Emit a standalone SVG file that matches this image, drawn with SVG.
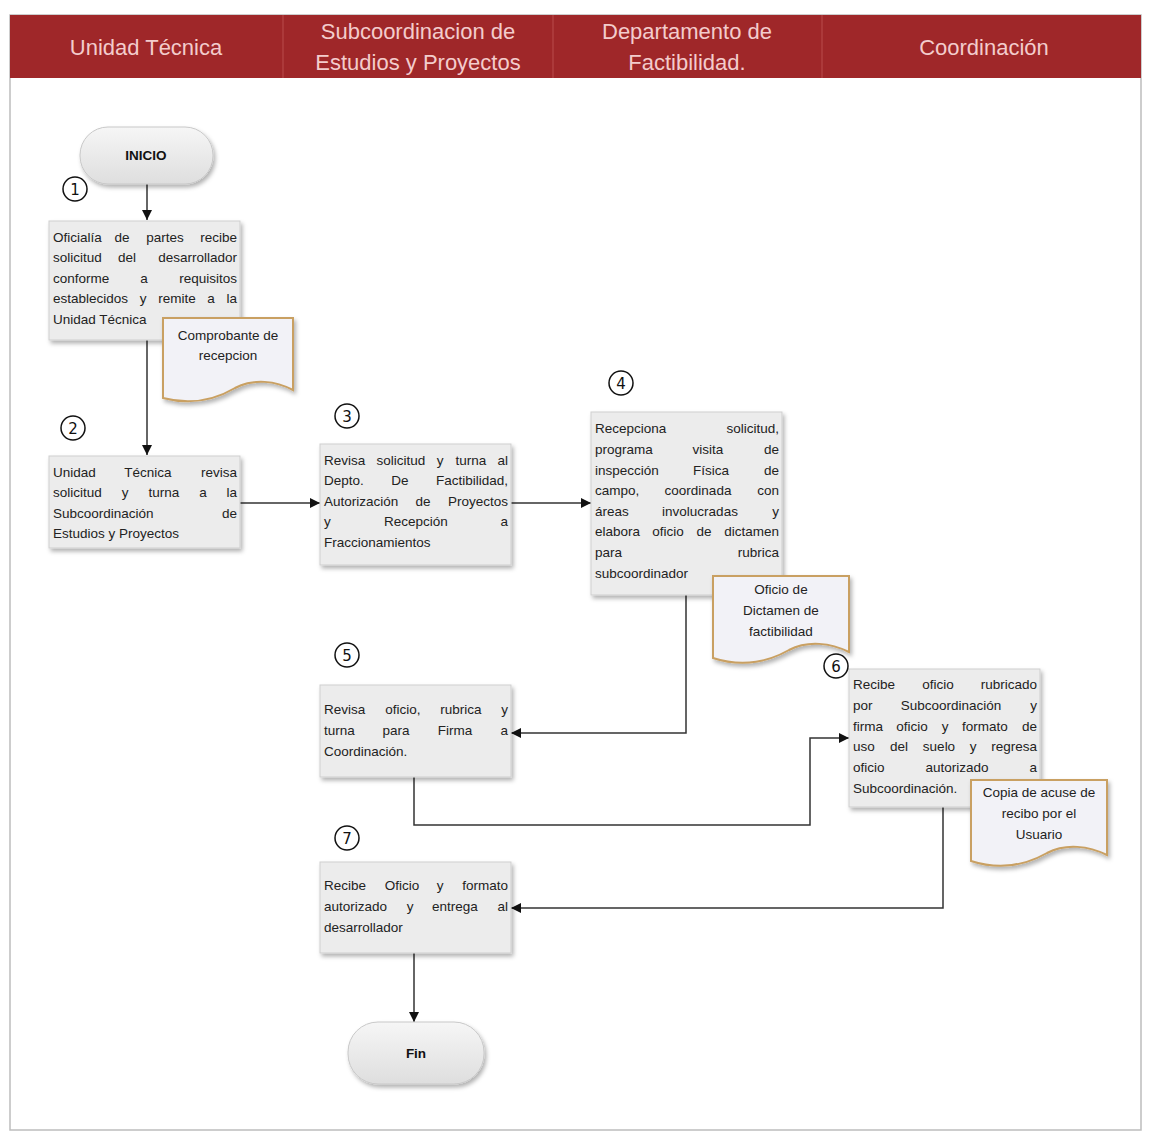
<svg xmlns="http://www.w3.org/2000/svg" width="1151" height="1134" viewBox="0 0 1151 1134">
  <defs>
    <filter id="shadow" x="-10%" y="-10%" width="125%" height="130%">
      <feDropShadow dx="2" dy="3" stdDeviation="2" flood-color="#000" flood-opacity="0.3"/>
    </filter>
    <linearGradient id="pill" x1="0" y1="0" x2="0" y2="1">
      <stop offset="0" stop-color="#f6f6f6"/>
      <stop offset="1" stop-color="#dedede"/>
    </linearGradient>
    <marker id="arrow" viewBox="0 0 10 10" refX="10" refY="5" markerWidth="10" markerHeight="10" markerUnits="userSpaceOnUse" orient="auto">
      <path d="M0,0 L10,5 L0,10 Z" fill="#111"/>
    </marker>
  </defs>
  <style>
    .hdr { font-family: "Liberation Sans", Arial, sans-serif; font-size: 22px; fill: #f3cccc; text-anchor: middle; }
    .box { fill: #ececec; stroke: #cfcfcf; stroke-width: 1; filter: url(#shadow); }
    .txt { font-family: "Liberation Sans", Arial, sans-serif; font-size: 13.5px; fill: #222; }
    .doc { fill: #f2f2f7; stroke: #c9a062; stroke-width: 2; filter: url(#shadow); }
    .dtxt { font-family: "Liberation Sans", Arial, sans-serif; font-size: 13.5px; fill: #222; text-anchor: middle; }
    .term { fill: url(#pill); stroke: #c8c8c8; stroke-width: 1; filter: url(#shadow); }
    .ttxt { font-family: "Liberation Sans", Arial, sans-serif; font-size: 13.5px; font-weight: bold; fill: #111; text-anchor: middle; }
    .num circle { fill: #fff; stroke: #111; stroke-width: 1.5; }
    .num text { font-family: "DejaVu Sans", sans-serif; font-size: 15px; fill: #111; text-anchor: middle; }
    .conn { fill: none; stroke: #333; stroke-width: 1.5; marker-end: url(#arrow); }
    .e { text-anchor: end; }
    .m { text-anchor: middle; }
  </style>

  <rect width="1151" height="1134" fill="#fff"/>

  <!-- page frame and swimlane header -->
  <g id="frame">
    <rect x="10" y="15" width="1131" height="1115" fill="#fff" stroke="#bdbdbd" stroke-width="1.5"/>
    <rect x="10" y="15" width="1131" height="63" fill="#9f2729"/>
    <line x1="283" y1="15" x2="283" y2="78" stroke="#b94c4c" stroke-width="1"/>
    <line x1="553" y1="15" x2="553" y2="78" stroke="#b94c4c" stroke-width="1"/>
    <line x1="822" y1="15" x2="822" y2="78" stroke="#b94c4c" stroke-width="1"/>
    <text class="hdr" x="146" y="55">Unidad Técnica</text>
    <text class="hdr" x="418" y="39">Subcoordinacion de</text>
    <text class="hdr" x="418" y="70">Estudios y Proyectos</text>
    <text class="hdr" x="687" y="39">Departamento de</text>
    <text class="hdr" x="687" y="70">Factibilidad.</text>
    <text class="hdr" x="984" y="55">Coordinación</text>
  </g>

  <!-- connectors -->
  <g id="connectors">
    <path class="conn" d="M147,184 V220"/>
    <path class="conn" d="M147,340 V455"/>
    <path class="conn" d="M240,503 H320"/>
    <path class="conn" d="M511,503 H591"/>
    <path class="conn" d="M686,595 V733 H511"/>
    <path class="conn" d="M414,777 V825 H810 V738 H849"/>
    <path class="conn" d="M943,807 V908 H511"/>
    <path class="conn" d="M414,953 V1022"/>
  </g>

  <!-- start -->
  <g id="inicio">
    <rect class="term" x="80" y="127" width="133" height="57" rx="28"/>
    <text class="ttxt" x="146" y="160">INICIO</text>
  </g>

  <!-- step 1 -->
  <g id="step1">
    <rect class="box" x="49" y="221" width="191" height="119"/>
    <text class="txt" y="242"><tspan x="53">Oficialía</tspan><tspan x="122" class="m">de</tspan><tspan x="165" class="m">partes</tspan><tspan x="237" class="e">recibe</tspan></text>
    <text class="txt" y="262"><tspan x="53">solicitud</tspan><tspan x="127" class="m">del</tspan><tspan x="237" class="e">desarrollador</tspan></text>
    <text class="txt" y="283"><tspan x="53">conforme</tspan><tspan x="144" class="m">a</tspan><tspan x="237" class="e">requisitos</tspan></text>
    <text class="txt" y="303"><tspan x="53">establecidos</tspan><tspan x="143" class="m">y</tspan><tspan x="177" class="m">remite</tspan><tspan x="211" class="m">a</tspan><tspan x="237" class="e">la</tspan></text>
    <text class="txt" y="324"><tspan x="53">Unidad Técnica</tspan></text>
  </g>
  <g id="num1" class="num"><circle cx="75" cy="189" r="12"/><text x="75" y="195">1</text></g>

  <!-- step 2 -->
  <g id="step2">
    <rect class="box" x="49" y="456" width="191" height="92"/>
    <text class="txt" y="477"><tspan x="53">Unidad</tspan><tspan x="148" class="m">Técnica</tspan><tspan x="237" class="e">revisa</tspan></text>
    <text class="txt" y="497"><tspan x="53">solicitud</tspan><tspan x="125" class="m">y</tspan><tspan x="164" class="m">turna</tspan><tspan x="203" class="m">a</tspan><tspan x="237" class="e">la</tspan></text>
    <text class="txt" y="518"><tspan x="53">Subcoordinación</tspan><tspan x="237" class="e">de</tspan></text>
    <text class="txt" y="538"><tspan x="53">Estudios y Proyectos</tspan></text>
  </g>
  <g id="num2" class="num"><circle cx="73" cy="428" r="12"/><text x="73" y="434">2</text></g>

  <!-- step 3 -->
  <g id="step3">
    <rect class="box" x="320" y="444" width="191" height="121"/>
    <text class="txt" y="465"><tspan x="324">Revisa</tspan><tspan x="401" class="m">solicitud</tspan><tspan x="440" class="m">y</tspan><tspan x="471" class="m">turna</tspan><tspan x="508" class="e">al</tspan></text>
    <text class="txt" y="485"><tspan x="324">Depto.</tspan><tspan x="400" class="m">De</tspan><tspan x="508" class="e">Factibilidad,</tspan></text>
    <text class="txt" y="506"><tspan x="324">Autorización</tspan><tspan x="423" class="m">de</tspan><tspan x="508" class="e">Proyectos</tspan></text>
    <text class="txt" y="526"><tspan x="324">y</tspan><tspan x="416" class="m">Recepción</tspan><tspan x="508" class="e">a</tspan></text>
    <text class="txt" y="547"><tspan x="324">Fraccionamientos</tspan></text>
  </g>
  <g id="num3" class="num"><circle cx="347" cy="416" r="12"/><text x="347" y="422">3</text></g>

  <!-- step 4 -->
  <g id="step4">
    <rect class="box" x="591" y="412" width="191" height="183"/>
    <text class="txt" y="433"><tspan x="595">Recepciona</tspan><tspan x="779" class="e">solicitud,</tspan></text>
    <text class="txt" y="454"><tspan x="595">programa</tspan><tspan x="708" class="m">visita</tspan><tspan x="779" class="e">de</tspan></text>
    <text class="txt" y="475"><tspan x="595">inspección</tspan><tspan x="711" class="m">Física</tspan><tspan x="779" class="e">de</tspan></text>
    <text class="txt" y="495"><tspan x="595">campo,</tspan><tspan x="698" class="m">coordinada</tspan><tspan x="779" class="e">con</tspan></text>
    <text class="txt" y="516"><tspan x="595">áreas</tspan><tspan x="700" class="m">involucradas</tspan><tspan x="779" class="e">y</tspan></text>
    <text class="txt" y="536"><tspan x="595">elabora</tspan><tspan x="668" class="m">oficio</tspan><tspan x="704" class="m">de</tspan><tspan x="779" class="e">dictamen</tspan></text>
    <text class="txt" y="557"><tspan x="595">para</tspan><tspan x="779" class="e">rubrica</tspan></text>
    <text class="txt" y="578"><tspan x="595">subcoordinador</tspan></text>
  </g>
  <g id="num4" class="num"><circle cx="621" cy="383" r="12"/><text x="621" y="389">4</text></g>

  <!-- step 5 -->
  <g id="step5">
    <rect class="box" x="320" y="685" width="191" height="92"/>
    <text class="txt" y="714"><tspan x="324">Revisa</tspan><tspan x="403" class="m">oficio,</tspan><tspan x="461" class="m">rubrica</tspan><tspan x="508" class="e">y</tspan></text>
    <text class="txt" y="735"><tspan x="324">turna</tspan><tspan x="396" class="m">para</tspan><tspan x="455" class="m">Firma</tspan><tspan x="508" class="e">a</tspan></text>
    <text class="txt" y="756"><tspan x="324">Coordinación.</tspan></text>
  </g>
  <g id="num5" class="num"><circle cx="347" cy="655" r="12"/><text x="347" y="661">5</text></g>

  <!-- step 6 -->
  <g id="step6">
    <rect class="box" x="849" y="669" width="191" height="138"/>
    <text class="txt" y="689"><tspan x="853">Recibe</tspan><tspan x="938" class="m">oficio</tspan><tspan x="1037" class="e">rubricado</tspan></text>
    <text class="txt" y="710"><tspan x="853">por</tspan><tspan x="951" class="m">Subcoordinación</tspan><tspan x="1037" class="e">y</tspan></text>
    <text class="txt" y="731"><tspan x="853">firma</tspan><tspan x="912" class="m">oficio</tspan><tspan x="945" class="m">y</tspan><tspan x="985" class="m">formato</tspan><tspan x="1037" class="e">de</tspan></text>
    <text class="txt" y="751"><tspan x="853">uso</tspan><tspan x="899" class="m">del</tspan><tspan x="939" class="m">suelo</tspan><tspan x="973" class="m">y</tspan><tspan x="1037" class="e">regresa</tspan></text>
    <text class="txt" y="772"><tspan x="853">oficio</tspan><tspan x="957" class="m">autorizado</tspan><tspan x="1037" class="e">a</tspan></text>
    <text class="txt" y="793"><tspan x="853">Subcoordinación.</tspan></text>
  </g>
  <g id="num6" class="num"><circle cx="836" cy="666" r="12"/><text x="836" y="672">6</text></g>

  <!-- step 7 -->
  <g id="step7">
    <rect class="box" x="320" y="862" width="191" height="91"/>
    <text class="txt" y="890"><tspan x="324">Recibe</tspan><tspan x="402" class="m">Oficio</tspan><tspan x="440" class="m">y</tspan><tspan x="508" class="e">formato</tspan></text>
    <text class="txt" y="911"><tspan x="324">autorizado</tspan><tspan x="410" class="m">y</tspan><tspan x="455" class="m">entrega</tspan><tspan x="508" class="e">al</tspan></text>
    <text class="txt" y="932"><tspan x="324">desarrollador</tspan></text>
  </g>
  <g id="num7" class="num"><circle cx="347" cy="838" r="12"/><text x="347" y="844">7</text></g>

  <!-- documents -->
  <g id="doc1">
    <path class="doc" d="M163,318 H293 V390 C276,381 254,378 235,388 C213,401 190,405 163,398 Z"/>
    <text class="dtxt" x="228" y="340">Comprobante de</text>
    <text class="dtxt" x="228" y="360">recepcion</text>
  </g>
  <g id="doc2">
    <path class="doc" d="M713,576 H849 V652 C831,643 808,640 789,650 C766,663 741,667 713,658 Z"/>
    <text class="dtxt" x="781" y="594">Oficio de</text>
    <text class="dtxt" x="781" y="615">Dictamen de</text>
    <text class="dtxt" x="781" y="636">factibilidad</text>
  </g>
  <g id="doc3">
    <path class="doc" d="M971,780 H1107 V855 C1089,846 1066,843 1047,853 C1024,866 999,870 971,861 Z"/>
    <text class="dtxt" x="1039" y="797">Copia de acuse de</text>
    <text class="dtxt" x="1039" y="818">recibo por el</text>
    <text class="dtxt" x="1039" y="839">Usuario</text>
  </g>

  <!-- end -->
  <g id="fin">
    <rect class="term" x="348" y="1022" width="136" height="62" rx="30"/>
    <text class="ttxt" x="416" y="1058">Fin</text>
  </g>
</svg>
